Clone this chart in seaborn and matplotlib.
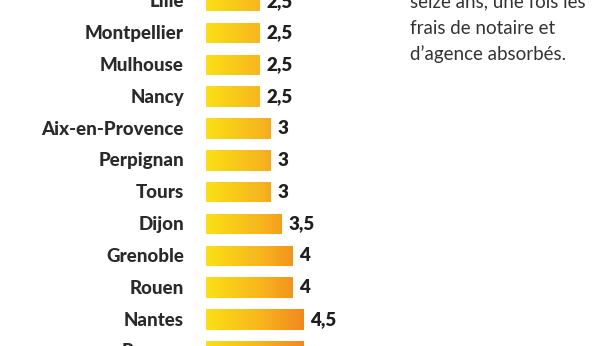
import numpy as np
import pandas as pd
import matplotlib
matplotlib.use("Agg")
import matplotlib.pyplot as plt
from matplotlib.colors import LinearSegmentedColormap
from matplotlib.transforms import offset_copy
import seaborn as sns

# ---- data ----
cities = ["Lille", "Montpellier", "Mulhouse", "Nancy", "Aix-en-Provence",
          "Perpignan", "Tours", "Dijon", "Grenoble", "Rouen", "Nantes", "Rennes"]
years = [2.5, 2.5, 2.5, 2.5, 3, 3, 3, 3.5, 4, 4, 4.5, 4.5]
value_labels = ["2,5", "2,5", "2,5", "2,5", "3", "3", "3", "3,5", "4", "4", "4,5", "4,5"]
note_lines = ["seize ans, une fois les", "frais de notaire et", "d\u2019agence absorbés."]

df = pd.DataFrame({"city": cities, "years": years})

sns.set_theme(style="white")
plt.rcParams["font.family"] = ["Lato", "DejaVu Sans"]

W, H = 616, 346
fig = plt.figure(figsize=(W / 100, H / 100), dpi=100)
ax = fig.add_axes([206 / W, 0, 410 / W, 1])

sns.barplot(data=df, x="years", y="city", orient="h", ax=ax,
            color="#f7b41f", width=0.645, saturation=1)

# gradient fill (absolute along x: yellow -> orange)
cmap = LinearSegmentedColormap.from_list("yo", ["#fbdf16", "#f7b81d", "#f0821f"])
for p in list(ax.patches):
    x0, y0 = p.get_x(), p.get_y()
    w, h = p.get_width(), p.get_height()
    grad = np.linspace(x0, x0 + w, 256)[None, :]
    im = ax.imshow(grad, extent=[x0, x0 + w, y0 + h, y0], cmap=cmap,
                   vmin=0, vmax=4.8, aspect="auto", interpolation="bilinear", zorder=2)
    im.set_clip_path(p)
    p.set_facecolor("none")
    p.set_edgecolor("none")

ax.bar_label(ax.containers[0], labels=value_labels, padding=5,
             fontsize=13.5, fontweight="heavy", color="#1f1f1f", zorder=3)

px = 21.6
ax.set_xlim(0, 410 / px)
sp = 31.83
ax.set_ylim((H - 1.2) / sp, -1.2 / sp)

# category labels drawn as text so partially visible rows show too
lab_tr = offset_copy(ax.transData, fig=fig, x=-22, y=1, units="dots")
for i, c in enumerate(cities):
    ax.text(0, i, c, transform=lab_tr, ha="right", va="center_baseline",
            fontsize=13.5, fontweight="black", color="#2a2a2a", clip_on=False)

ax.set_xlabel("")
ax.set_ylabel("")
ax.set_xticks([])
ax.set_yticks([])
sns.despine(ax=ax, left=True, bottom=True)
ax.patch.set_alpha(0)

for line, base in zip(note_lines, [7, 33.5, 60]):
    fig.text(410 / W, 1 - base / H, line, fontsize=13.5, color="#333333",
             ha="left", va="baseline")

fig.savefig("out.png", dpi=100, facecolor="white")
